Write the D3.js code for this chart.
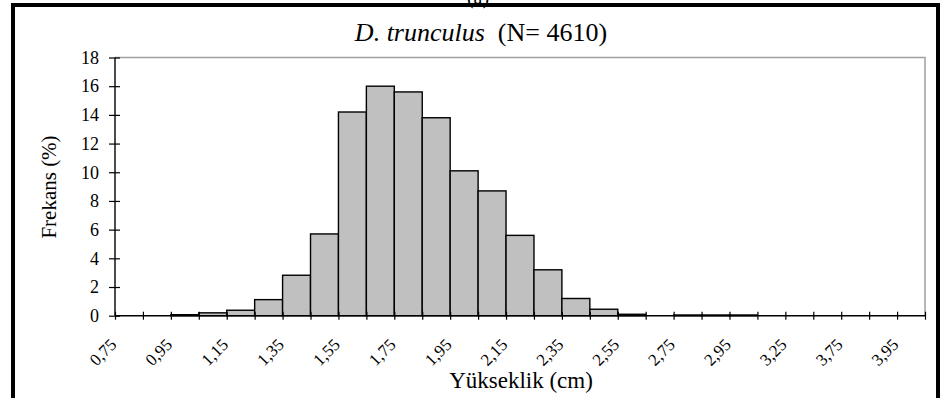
<!DOCTYPE html>
<html>
<head>
<meta charset="utf-8">
<script src="https://d3js.org/d3.v7.min.js"></script>
<style>
  body { margin: 0; background: #fff; }
  svg { display: block; }
  svg text { font-family: "Liberation Serif", "Times New Roman", serif; fill: #000; }
</style>
</head>
<body>
<svg id="chart"></svg>
<script>
  var width = 940;
  var height = 398;

  // frequency (%) per 0.1 cm class, one per tick interval
  var frequencies = [0, 0, 0.07, 0.2, 0.38, 1.12, 2.82, 5.7, 14.2, 16.0, 15.6, 13.8, 10.1, 8.7,
    5.6, 3.2, 1.2, 0.45, 0.1, 0, 0.05, 0.05, 0.05, 0, 0, 0, 0, 0, 0];
  // labels shown under every second tick
  var tickLabels = ["0,75", "0,95", "1,15", "1,35", "1,55", "1,75", "1,95", "2,15",
    "2,35", "2,55", "2,75", "2,95", "3,25", "3,75", "3,95"];
  var yTicks = [0, 2, 4, 6, 8, 10, 12, 14, 16, 18];

  var plotLeft = 115, plotRight = 925, plotTop = 57.5, plotBottom = 315.7;

  var svg = d3.select("#chart").attr("width", width).attr("height", height);

  // outer frame (bottom edge is cut off)
  svg.append("rect")
    .attr("x", 13).attr("y", 5)
    .attr("width", 925).attr("height", 440)
    .attr("fill", "#fff").attr("stroke", "#000").attr("stroke-width", 4);

  // "(a)" mostly hidden above the frame
  svg.append("text")
    .attr("x", 478).attr("y", 4)
    .attr("text-anchor", "middle")
    .style("font-size", "20px")
    .text("(a)");

  // title
  var title = svg.append("text")
    .attr("x", 481).attr("y", 41)
    .attr("text-anchor", "middle")
    .style("font-size", "26px");
  title.append("tspan").style("font-style", "italic").text("D. trunculus");
  title.append("tspan").text("\u00a0\u00a0(N= 4610)");

  var xscale = d3.scaleLinear().domain([0, frequencies.length]).range([plotLeft, plotRight]);
  var yscale = d3.scaleLinear().domain([0, 18]).range([plotBottom, plotTop]);

  // plot area border (grey top and right)
  svg.append("path")
    .attr("d", "M" + plotLeft + "," + plotTop + "H" + plotRight + "V" + plotBottom)
    .attr("fill", "none").attr("stroke", "#a0a0a0").attr("stroke-width", 1.5);

  // bars
  svg.selectAll(".bar")
    .data(frequencies.map(function(v, i) { return {i: i, v: v}; }).filter(function(d) { return d.v > 0; }))
    .enter().append("rect")
    .attr("class", "bar")
    .attr("x", function(d) { return xscale(d.i); })
    .attr("y", function(d) { return yscale(d.v); })
    .attr("width", function(d) { return xscale(d.i + 1) - xscale(d.i); })
    .attr("height", function(d) { return yscale(0) - yscale(d.v); })
    .attr("fill", "#c0c0c0").attr("stroke", "#000").attr("stroke-width", 1.4);

  // y axis
  var yAxis = svg.append("g")
    .attr("transform", "translate(" + plotLeft + ",0)")
    .call(d3.axisLeft(yscale).tickValues(yTicks).tickSize(5).tickPadding(11).tickFormat(d3.format("d")));
  yAxis.attr("font-family", null).attr("font-size", null);
  yAxis.select(".domain").attr("stroke-width", 1.4).attr("d", "M0," + plotTop + "V" + plotBottom);
  yAxis.selectAll(".tick line").attr("x1", -6).attr("x2", 5).attr("stroke-width", 1.2);
  yAxis.selectAll(".tick text").style("font-size", "18px");

  // x axis
  var xAxis = svg.append("g")
    .attr("transform", "translate(0," + plotBottom + ")")
    .call(d3.axisBottom(xscale)
      .tickValues(d3.range(frequencies.length + 1))
      .tickSize(4)
      .tickFormat(function(i) { return i % 2 === 0 && i / 2 < tickLabels.length ? tickLabels[i / 2] : ""; }));
  xAxis.attr("font-family", null).attr("font-size", null);
  xAxis.select(".domain").attr("stroke-width", 1.4).attr("d", "M" + plotLeft + ",0H" + plotRight);
  xAxis.selectAll(".tick line").attr("y1", -4).attr("y2", 4).attr("stroke-width", 1.2);
  xAxis.selectAll(".tick text")
    .style("font-size", "17px")
    .attr("text-anchor", "end")
    .attr("dy", null)
    .attr("y", 0)
    .attr("transform", "translate(2,30) rotate(-45)");

  // axis titles
  svg.append("text")
    .attr("transform", "translate(56,187) rotate(-90)")
    .attr("text-anchor", "middle")
    .style("font-size", "21px")
    .text("Frekans (%)");

  svg.append("text")
    .attr("x", 521).attr("y", 388)
    .attr("text-anchor", "middle")
    .style("font-size", "23px")
    .text("Yükseklik (cm)");
</script>
</body>
</html>
